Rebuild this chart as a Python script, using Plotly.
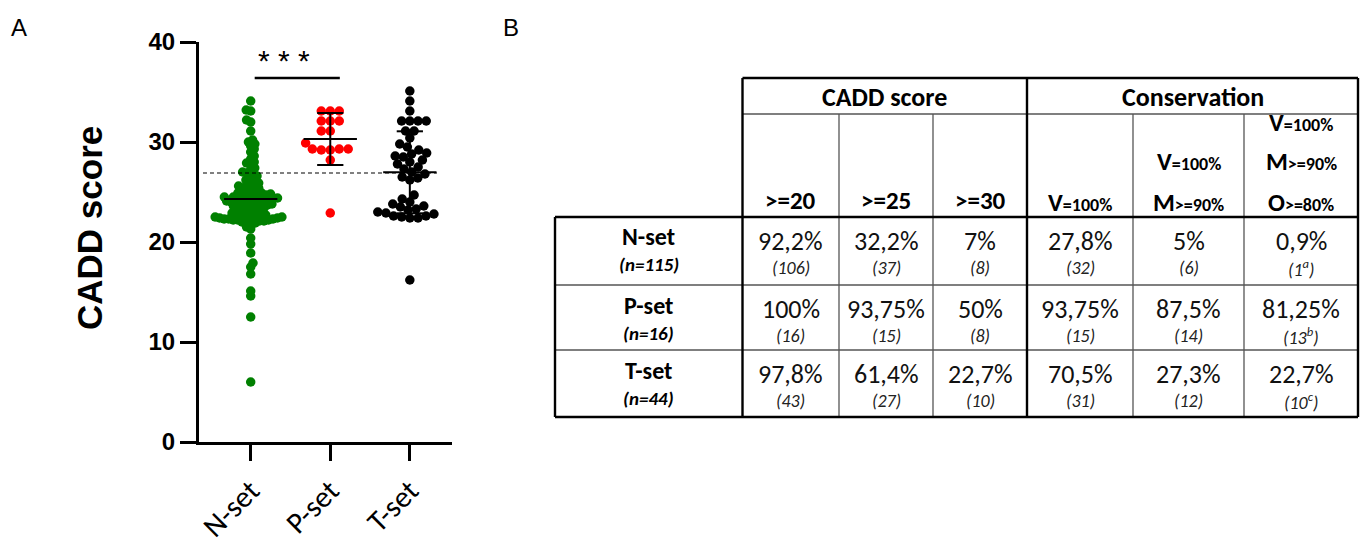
import numpy as np
import plotly.graph_objects as go

W, H = 1366, 542

# ---------------- data (panel A) ----------------
categories = ["N-set", "P-set", "T-set"]
n_set = [
    6.0, 12.5, 14.6, 15.1, 16.8, 17.5, 17.9, 18.9, 19.8,
    20.4, 21.3, 21.5, 21.8, 21.9,
    22.0, 22.0, 22.1, 22.1, 22.2, 22.2, 22.2, 22.3, 22.3, 22.3, 22.3, 22.4, 22.4,
    22.4, 22.4, 22.5, 22.5, 22.5, 22.6, 22.6, 22.7, 22.7, 22.8, 22.8, 22.9, 22.9,
    23.0, 23.1, 23.2, 23.3, 23.4, 23.4, 23.5, 23.5, 23.6, 23.6, 23.7, 23.7, 23.8,
    23.8, 23.9, 23.9,
    24.0, 24.0, 24.1, 24.1, 24.2, 24.2, 24.3, 24.3, 24.3, 24.4, 24.4, 24.5, 24.5,
    24.5, 24.6, 24.6, 24.7, 24.7, 24.8, 24.8, 24.9, 24.9,
    25.0, 25.1, 25.2, 25.3, 25.4, 25.5, 25.6, 25.7, 25.8, 25.9,
    26.0, 26.2, 26.3, 26.5, 26.6, 26.8, 26.9,
    27.0, 27.2, 27.4, 27.7, 27.9,
    28.0, 28.3, 28.6,
    29.0, 29.3, 29.6, 29.8,
    30.0, 30.2, 31.1, 32.0, 32.2, 33.1, 33.2, 34.1,
]
p_set = [33.1, 33.1, 33.1, 32.1, 32.1, 32.1, 31.1, 31.1,
         29.9, 29.3, 29.2, 29.3, 29.2, 29.3, 28.2, 22.9]
t_set = [35.1, 34.1, 33.1, 32.1, 32.1, 32.1, 32.1, 31.1, 31.1, 30.4,
         29.8, 29.5, 29.2, 28.8, 28.5, 28.2, 28.0, 27.8, 27.3, 27.0, 26.8,
         26.5, 28.9, 28.6, 27.5, 26.4, 26.2,
         24.7, 24.3, 24.0, 23.8, 23.5, 23.2, 23.0, 22.8, 22.6, 22.5, 22.4,
         23.6, 23.3, 22.9, 22.6, 22.4,
         16.2]
group_values = [n_set, p_set, t_set]
group_means = [24.3, 30.3, 26.97]
group_sds = [None, 2.6, 4.1]
group_colors = ["#008000", "#ff0000", "#000000"]
ref_line_value = 26.9
y_ticks = [0, 10, 20, 30, 40]
sig_label = "* * *"

# ---------------- data (panel B) ----------------
row_labels = ["N-set", "P-set", "T-set"]
row_sizes = ["(n=115)", "(n=16)", "(n=44)"]
group_headers = ["CADD score", "Conservation"]
cadd_headers = [">=20", ">=25", ">=30"]
cons_headers = [["V=100%"], ["V=100%", "M>=90%"], ["V=100%", "M>=90%", "O>=80%"]]
pct_values = [
    ["92,2%", "32,2%", "7%", "27,8%", "5%", "0,9%"],
    ["100%", "93,75%", "50%", "93,75%", "87,5%", "81,25%"],
    ["97,8%", "61,4%", "22,7%", "70,5%", "27,3%", "22,7%"],
]
count_values = [
    ["106", "37", "8", "32", "6", "1<sup>a</sup>"],
    ["16", "15", "8", "15", "14", "13<sup>b</sup>"],
    ["43", "27", "10", "31", "12", "10<sup>c</sup>"],
]

# ---------------- geometry helpers ----------------
X_DOM = (199 / W, 452 / W)
X_RANGE = (-0.65, 2.53)
Y_DOM = (1 - 442 / H, 1 - 42 / H)
Y_RANGE = (0, 40)
PX_PER_X = (X_DOM[1] - X_DOM[0]) * W / (X_RANGE[1] - X_RANGE[0])
PX_PER_Y = (Y_DOM[1] - Y_DOM[0]) * H / (Y_RANGE[1] - Y_RANGE[0])
swarm_spacing = [4.6, 9.0, 8.2]


def px(x):
    return x / W


def py(y):
    return 1 - y / H


def swarm(vals, diam):
    vals = np.asarray(vals, dtype=float)
    order = np.argsort(vals, kind="stable")
    placed = []
    offs = np.zeros(len(vals))
    for k, idx in enumerate(order):
        y = vals[idx] * PX_PER_Y
        cands = [0.0]
        for (cx, cy) in placed:
            dy = abs(cy - y)
            if dy < diam:
                dx = np.sqrt(diam ** 2 - dy ** 2)
                cands += [cx + dx, cx - dx]
        cands = sorted(cands, key=lambda c: (abs(c), c if k % 2 else -c))
        for c in cands:
            if all((c - cx) ** 2 + (y - cy) ** 2 >= diam ** 2 - 1e-6 for cx, cy in placed):
                break
        placed.append((c, y))
        offs[idx] = c / PX_PER_X
    return offs


fig = go.Figure()

# points
for i, vals in enumerate(group_values):
    offs = swarm(vals, swarm_spacing[i])
    fig.add_trace(go.Scatter(
        x=i + offs, y=vals, mode="markers",
        marker=dict(size=9.5, color=group_colors[i], line=dict(width=0)),
        hoverinfo="skip", showlegend=False))

# mean and SD lines
lx, ly = [], []
for i, (m, sd) in enumerate(zip(group_means, group_sds)):
    lx += [i - 0.335, i + 0.335, None]
    ly += [m, m, None]
    if sd:
        lx += [i, i, None, i - 0.165, i + 0.165, None, i - 0.165, i + 0.165, None]
        ly += [m - sd, m + sd, None, m + sd, m + sd, None, m - sd, m - sd, None]
fig.add_trace(go.Scatter(x=lx, y=ly, mode="lines", line=dict(color="black", width=2),
                         hoverinfo="skip", showlegend=False))

# dashed reference line
fig.add_trace(go.Scatter(x=[-0.6, 2.34], y=[ref_line_value, ref_line_value], mode="lines",
                         line=dict(color="black", width=1.2, dash="4px,3px"),
                         hoverinfo="skip", showlegend=False))

# significance bar
fig.add_trace(go.Scatter(x=[0.05, 1.12], y=[36.4, 36.4], mode="lines",
                         line=dict(color="black", width=2.5),
                         hoverinfo="skip", showlegend=False))

annotations = []
annotations.append(dict(x=0.42, y=38.2, xref="x", yref="y", text=sig_label, showarrow=False,
                        xanchor="center", yanchor="middle",
                        font=dict(family="Liberation Sans, Arial", size=30, color="black")))

# y-axis title
annotations.append(dict(x=px(89), y=py(228), xref="paper", yref="paper", text="<b>CADD score</b>",
                        textangle=-90, showarrow=False, xanchor="center", yanchor="middle",
                        font=dict(family="Liberation Sans, Arial", size=35, color="black")))
# panel letters
annotations.append(dict(x=px(19), y=py(28), xref="paper", yref="paper", text="A", showarrow=False,
                        xanchor="center", yanchor="middle",
                        font=dict(family="Liberation Sans, Arial", size=24, color="black")))
annotations.append(dict(x=px(511), y=py(28), xref="paper", yref="paper", text="B", showarrow=False,
                        xanchor="center", yanchor="middle",
                        font=dict(family="Liberation Sans, Arial", size=24, color="black")))

# ---------------- table (panel B) ----------------
TF = "Carlito, Calibri, Lato, sans-serif"
col_b = [742.5, 839, 933, 1027, 1133, 1244, 1358]
row_b = [217, 285, 350, 417]
left_b = 555
top_b, mid_b = 78, 114

shapes = []


def line(x0, y0, x1, y1, thick):
    shapes.append(dict(type="line", xref="paper", yref="paper",
                       x0=px(x0), y0=py(y0), x1=px(x1), y1=py(y1),
                       line=dict(color="black" if thick else "#555555", width=2.4 if thick else 1.3)))


# thin lines
line(col_b[0], mid_b, col_b[-1], mid_b, False)
for xb in [col_b[1], col_b[2], col_b[4], col_b[5]]:
    line(xb, mid_b, xb, row_b[-1], False)
for yb in row_b[1:-1]:
    line(left_b, yb, col_b[-1], yb, False)
# thick lines
line(col_b[0], top_b, col_b[-1], top_b, True)
line(col_b[0], top_b, col_b[0], row_b[-1], True)
line(col_b[3], top_b, col_b[3], row_b[-1], True)
line(col_b[-1], top_b, col_b[-1], row_b[-1], True)
line(left_b, row_b[0], col_b[-1], row_b[0], True)
line(left_b, row_b[-1], col_b[-1], row_b[-1], True)
line(left_b, row_b[0], left_b, row_b[-1], True)


def txt(x, y, s, size, color="black"):
    annotations.append(dict(x=px(x), y=py(y), xref="paper", yref="paper", text=s, showarrow=False,
                            xanchor="center", yanchor="middle",
                            font=dict(family=TF, size=size, color=color)))


# group headers
txt((col_b[0] + col_b[3]) / 2, 97, "<b>%s</b>" % group_headers[0], 26)
txt((col_b[3] + col_b[6]) / 2, 97, "<b>%s</b>" % group_headers[1], 26)

# CADD sub headers
for j, h in enumerate(cadd_headers):
    txt((col_b[j] + col_b[j + 1]) / 2, 201, "<b>%s</b>" % h.replace(">", "&gt;"), 25)

# conservation sub headers
for j, lines in enumerate(cons_headers):
    cx = (col_b[3 + j] + col_b[4 + j]) / 2
    n = len(lines)
    for k, ln in enumerate(lines):
        yy = 202 - (n - 1 - k) * 40
        big, rest = ln[0], ln[1:].replace(">", "&gt;")
        txt(cx, yy, "<b>%s<span style='font-size:18px'>%s</span></b>" % (big, rest), 25)

# row labels
lab_cx = (left_b + col_b[0]) / 2
for i in range(3):
    top = row_b[i]
    txt(lab_cx, top + 20, "<b>%s</b>" % row_labels[i], 24)
    txt(lab_cx, top + 48, "<b><i>%s</i></b>" % row_sizes[i], 19)
    for j in range(6):
        cx = (col_b[j] + col_b[j + 1]) / 2
        txt(cx, top + 24, pct_values[i][j], 26, "#111111")
        txt(cx, top + 51, "<i>(%s)</i>" % count_values[i][j], 18, "#222222")

fig.update_layout(
    width=W, height=H,
    margin=dict(l=0, r=0, t=0, b=0, autoexpand=False),
    paper_bgcolor="white", plot_bgcolor="white",
    showlegend=False, hovermode=False,
    shapes=shapes, annotations=annotations,
    xaxis=dict(domain=list(X_DOM), range=list(X_RANGE), tickvals=[0, 1, 2], ticktext=categories,
               tickangle=-45, ticks="outside", ticklen=16, tickwidth=3, tickcolor="black",
               showline=True, linewidth=3, linecolor="black", showgrid=False, zeroline=False,
               automargin=False,
               tickfont=dict(family=TF, size=30, color="black")),
    yaxis=dict(domain=list(Y_DOM), range=list(Y_RANGE), tickvals=y_ticks,
               ticks="outside", ticklen=16, tickwidth=3, tickcolor="black",
               showline=True, linewidth=3, linecolor="black", showgrid=False, zeroline=False,
               automargin=False,
               tickfont=dict(family="Liberation Sans, Arial", size=24, color="black", weight="bold")),
)

fig.write_html("out.html", config={"displayModeBar": False},
               post_script="document.body.style.margin='0';")
